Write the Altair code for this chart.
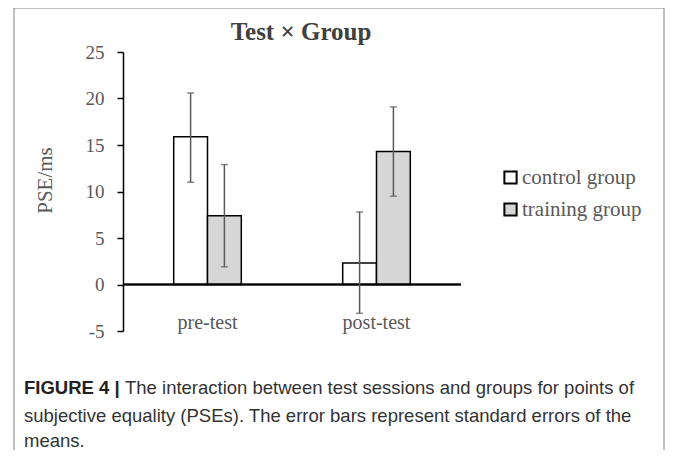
import altair as alt
import pandas as pd

# ---- data ----
tests = ["pre-test", "pre-test", "post-test", "post-test"]
groups = ["control group", "training group", "control group", "training group"]
means = [15.9, 7.4, 2.3, 14.3]
lower = [11.0, 1.9, -3.1, 9.5]
upper = [20.6, 12.9, 7.8, 19.1]

test_order = ["pre-test", "post-test"]
group_order = ["control group", "training group"]
y_ticks = [-5, 0, 5, 10, 15, 20, 25]

title_text = "Test \u00d7 Group"
cap_bold = "FIGURE 4 |"
cap_line1 = "The interaction between test sessions and groups for points of"
cap_line2 = "subjective equality (PSEs). The error bars represent standard errors of the"
cap_line3 = "means."

df = pd.DataFrame({"test": tests, "group": groups, "mean": means,
                   "lo": lower, "hi": upper})

SERIF = "Liberation Serif"
SANS = "Liberation Sans"
GREY = "#595959"

x_enc = alt.X("test:N", sort=test_order,
              scale=alt.Scale(paddingInner=0.6, paddingOuter=0.3),
              axis=alt.Axis(title=None, domain=False, ticks=False, labelAngle=0,
                            labelFont=SERIF, labelFontSize=20, labelColor=GREY,
                            labelBaseline="alphabetic", labelPadding=-3))
xo_enc = alt.XOffset("group:N", sort=group_order,
                     scale=alt.Scale(paddingInner=0, paddingOuter=0))
y_scale = alt.Scale(domain=[-5, 25], nice=False, zero=False)

bars = alt.Chart(df).mark_bar(stroke="black", strokeWidth=1.5).encode(
    x=x_enc,
    xOffset=xo_enc,
    y=alt.Y("mean:Q", scale=y_scale,
            axis=alt.Axis(values=y_ticks, grid=False, domainColor="black",
                          domainWidth=1.5, tickColor="black", tickWidth=1.5,
                          tickSize=6, labelFont=SERIF, labelFontSize=19,
                          labelColor=GREY, labelPadding=13,
                          labelExpr="'' + datum.value",
                          title="PSE/ms", titleFont=SERIF, titleFontSize=21,
                          titleFontWeight="normal", titleColor=GREY,
                          titleX=-78, titleY=128, titleBaseline="middle",
                          titleAlign="center")),
    y2=alt.datum(0),
    fill=alt.Fill("group:N", sort=group_order,
                  scale=alt.Scale(domain=group_order, range=["white", "#d6d6d6"]),
                  legend=alt.Legend(title=None, orient="none", legendX=377,
                                    legendY=115, symbolType="square",
                                    symbolSize=150, symbolStrokeColor="black",
                                    symbolStrokeWidth=2, labelFont=SERIF,
                                    labelFontSize=21, labelColor=GREY,
                                    labelOffset=1, rowPadding=10)),
)

zero = alt.Chart(df).mark_rule(color="black", strokeWidth=1.5).encode(
    y=alt.datum(0, scale=y_scale)
)

err = alt.Chart(df).mark_rule(color=GREY, strokeWidth=1.5).encode(
    x=x_enc, xOffset=xo_enc, y=alt.Y("lo:Q", scale=y_scale), y2="hi:Q"
)
cap_hi = alt.Chart(df).mark_tick(color=GREY, thickness=1.5, size=7).encode(
    x=x_enc, xOffset=xo_enc, y=alt.Y("hi:Q", scale=y_scale)
)
cap_lo = alt.Chart(df).mark_tick(color=GREY, thickness=1.5, size=7).encode(
    x=x_enc, xOffset=xo_enc, y=alt.Y("lo:Q", scale=y_scale)
)

one = pd.DataFrame({"k": [0]})

title = alt.Chart(one).mark_text(text=title_text, font=SERIF, fontSize=25,
                                 fontWeight="bold", color="#404040",
                                 align="center", baseline="alphabetic").encode(
    x=alt.value(178), y=alt.value(-12))

border = alt.Chart(one).mark_rect(fill=None, stroke="#7f7f7f", strokeWidth=1).encode(
    x=alt.value(-109), x2=alt.value(541), y=alt.value(-44), y2=alt.value(420))

capb = alt.Chart(one).mark_text(text=cap_bold, font=SANS, fontSize=18.5,
                                fontWeight="bold", color="#222222",
                                align="left", baseline="middle").encode(
    x=alt.value(-99), y=alt.value(336))
cap1 = alt.Chart(one).mark_text(text=cap_line1, font=SANS, fontSize=18.5,
                                color="#333333", align="left",
                                baseline="middle").encode(
    x=alt.value(2), y=alt.value(336))
cap2 = alt.Chart(one).mark_text(text=cap_line2, font=SANS, fontSize=18.5,
                                color="#333333", align="left",
                                baseline="middle").encode(
    x=alt.value(-99), y=alt.value(364))
cap3 = alt.Chart(one).mark_text(text=cap_line3, font=SANS, fontSize=18.5,
                                color="#333333", align="left",
                                baseline="middle").encode(
    x=alt.value(-99), y=alt.value(389))

chart = alt.layer(border, bars, zero, err, cap_hi, cap_lo, title,
                  capb, cap1, cap2, cap3).properties(
    width=338, height=279,
    padding={"left": 115, "top": 44, "right": 204, "bottom": 119},
    autosize=alt.AutoSizeParams(type="none"),
    background="white",
).configure_view(strokeWidth=0, stroke="transparent")

chart.save("out.html", embed_options={"renderer": "svg", "actions": False})
